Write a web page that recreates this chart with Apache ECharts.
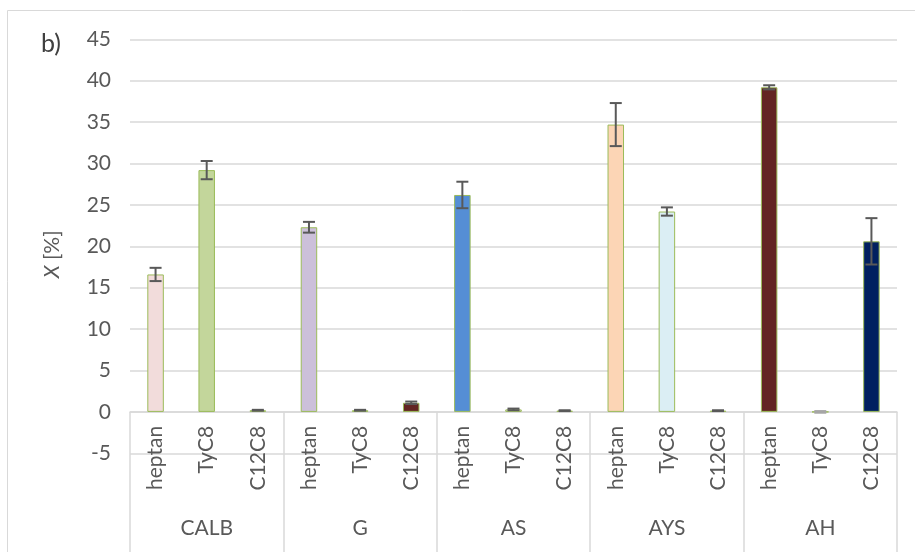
<!DOCTYPE html>
<html>
<head>
<meta charset="utf-8">
<script src="https://cdn.jsdelivr.net/npm/echarts@6/dist/echarts.min.js"></script>
<style>html,body{margin:0;padding:0;background:#fff;}#c{width:915px;height:552px;}</style>
</head>
<body>
<div id="c"></div>
<script>
// ---- data ----
const groups = ['CALB', 'G', 'AS', 'AYS', 'AH'];
const solvents = ['heptan', 'TyC8', 'C12C8'];
const values = [16.6, 29.2, 0.2, 22.3, 0.2, 1.1, 26.2, 0.3, 0.15, 34.7, 24.2, 0.15, 39.2, 0.0, 20.6];
const errors = [0.8, 1.1, 0.05, 0.65, 0.05, 0.15, 1.6, 0.1, 0.05, 2.6, 0.5, 0.05, 0.25, 0.1, 2.8];
const yTicks = { min: -5, max: 45, step: 5 };

// ---- styles ----
const barColors = ['#f2dcdb', '#c3d69b', '#d9d9d9', '#ccc0da', '#d9d9d9', '#632523', '#558ed5', '#d9d9d9', '#d9d9d9',
  '#fcd5b5', '#dbeef4', '#d9d9d9', '#632523', '#d9d9d9', '#002060'];
const errColors = ['#595959', '#595959', '#595959', '#595959', '#595959', '#595959', '#595959', '#595959', '#595959',
  '#595959', '#595959', '#595959', '#595959', '#a6a6a6', '#595959'];

const categories = [];
groups.forEach(() => solvents.forEach(s => categories.push(s)));

const FONT = 'Lato';
const TXT = '#595959';
const GRID = '#d9d9d9';
const ZERO_OFFSET = -41.4; // distance from plot bottom (-5) up to the 0 line

const chart = echarts.init(document.getElementById('c'), null, { renderer: 'canvas' });

const barData = values.map((v, i) => ({
  value: v,
  itemStyle: { color: barColors[i], borderColor: '#9bbb59', borderWidth: 1 }
}));
const errData = values.map((v, i) => [i, v - errors[i], v + errors[i]]);

chart.setOption({
  animation: false,
  title: {
    text: 'b)', left: 36, top: 26,
    textStyle: { fontFamily: FONT, fontSize: 25, fontWeight: 'normal', color: '#404040' }
  },
  graphic: [{
    type: 'rect', silent: true,
    shape: { x: 7.5, y: 10.5, width: 1000, height: 1000 },
    style: { fill: 'none', stroke: GRID, lineWidth: 1 }
  }],
  grid: { left: 130, right: 18, top: 39.3, bottom: 98.7, containLabel: false },
  xAxis: [{
    type: 'category',
    data: categories,
    position: 'bottom',
    offset: ZERO_OFFSET,
    axisLine: { show: true, onZero: false, lineStyle: { color: GRID, width: 1.5 } },
    axisTick: { show: false },
    axisLabel: { interval: 0, rotate: 90, margin: 14, fontFamily: FONT, fontSize: 21, color: TXT, hideOverlap: false },
    splitLine: { show: false }
  }, {
    type: 'category',
    data: groups,
    position: 'bottom',
    offset: ZERO_OFFSET,
    axisLine: { show: false, onZero: false },
    axisTick: { show: true, length: 142, lineStyle: { color: GRID, width: 1.5 } },
    axisLabel: { interval: 0, margin: 106, fontFamily: FONT, fontSize: 21, color: TXT },
    splitLine: { show: false }
  }],
  yAxis: {
    type: 'value',
    min: yTicks.min, max: yTicks.max, interval: yTicks.step,
    name: '{i|X} [%]',
    nameLocation: 'middle',
    nameRotate: 90,
    nameGap: 67,
    nameTextStyle: {
      fontFamily: FONT, fontSize: 21, color: TXT, padding: [0, 0, 0, -16],
      rich: { i: { fontFamily: FONT, fontSize: 21, color: TXT, fontStyle: 'italic' } }
    },
    axisLine: { show: false },
    axisTick: { show: false },
    axisLabel: { margin: 19, fontFamily: FONT, fontSize: 21, color: TXT },
    splitLine: { show: true, lineStyle: { color: GRID, width: 1.5 } }
  },
  series: [{
    type: 'bar',
    xAxisIndex: 0,
    data: barData,
    barWidth: 16.5,
    z: 2
  }, {
    type: 'custom',
    xAxisIndex: 0,
    data: errData,
    z: 5,
    renderItem: function (params, api) {
      const x = api.value(0), lo = api.value(1), hi = api.value(2);
      const pTop = api.coord([x, hi]);
      const pBot = api.coord([x, lo]);
      const w = 6;
      const st = { stroke: errColors[params.dataIndex], lineWidth: 2 };
      return {
        type: 'group',
        children: [
          { type: 'line', shape: { x1: pTop[0], y1: pTop[1], x2: pBot[0], y2: pBot[1] }, style: st },
          { type: 'line', shape: { x1: pTop[0] - w, y1: pTop[1], x2: pTop[0] + w, y2: pTop[1] }, style: st },
          { type: 'line', shape: { x1: pBot[0] - w, y1: pBot[1], x2: pBot[0] + w, y2: pBot[1] }, style: st }
        ]
      };
    }
  }]
});
</script>
</body>
</html>
